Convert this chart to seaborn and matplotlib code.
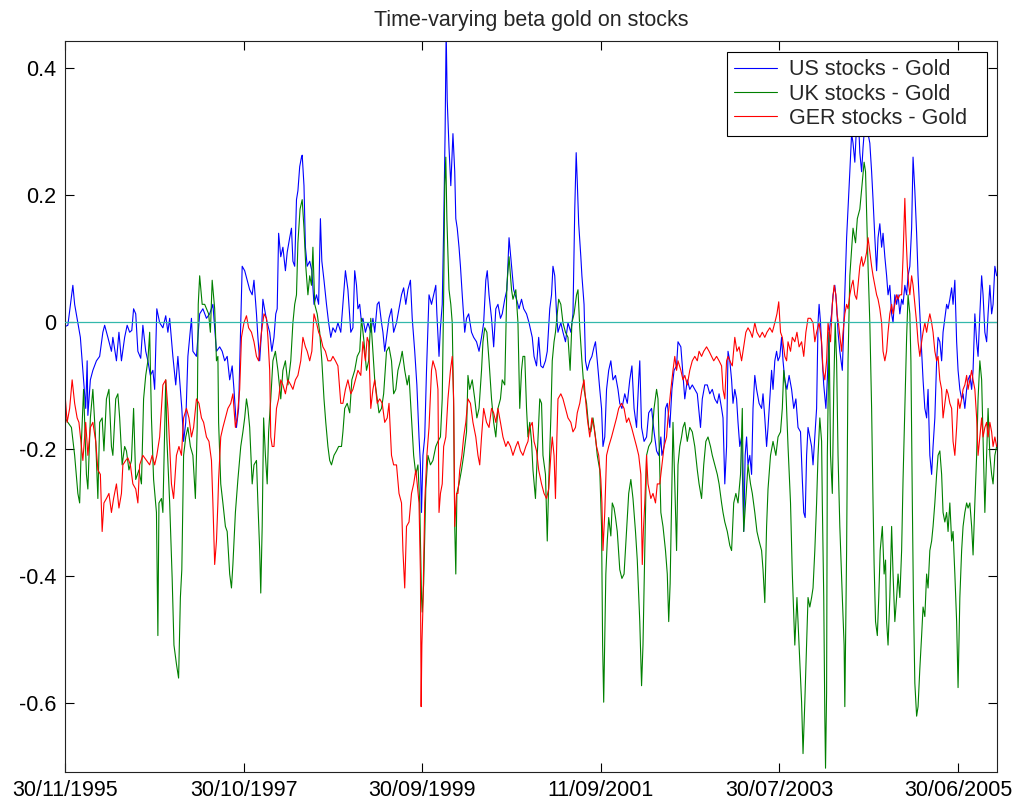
import matplotlib
matplotlib.use("Agg")
import numpy as np
import pandas as pd
import matplotlib.pyplot as plt
import seaborn as sns

# ---------------- data (observation number, beta) ----------------
us_day = [1,9,23,28,37,44,51,59,63,65,72,79,89,98,107,112,121,131,135,145,
          152,159,168,175,182,188,193,199,205,213,219,227,233,240,247,252,258,266,275,283,
          289,294,303,311,317,324,328,333,339,345,355,359,369,373,378,387,397,406,415,425,434,
          441,448,455,462,469,474,481,487,493,497,504,511,518,525,530,537,541,546,551,555,
          562,567,574,580,586,591,595,599,605,611,618,623,630,635,639,644,649,653,658,663,
          665,670,674,679,686,692,698,705,711,716,720,726,733,739,745,751,758,765,773,779,
          786,793,801,807,812,817,821,826,831,835,842,849,857,863,868,
          875,880,887,891,896,903,908,915,921,929,936,943,949,955,961,968,973,980,986,992,
          996,999,1003,1008,1013,1020,1027,1033,1039,1042,1048,1052,1057,1061,1065,1068,1071,1076,1081,1087,
          1092,1095,1099,1104,1108,1113,1120,1125,1131,1139,1145,1153,1160,1167,1173,1179,1183,1188,1195,1201,
          1207,1213,1220,1225,1232,1238,1244,1251,1257,1265,1272,1279,1285,1293,1300,
          1309,1314,1321,1327,1333,1339,1346,1351,1358,1363,1367,1372,1377,1381,1389,1395,1402,1409,1417,1423,
          1428,1432,1435,1439,1445,1448,1454,1458,1463,1470,1476,1482,1486,1491,1498,1503,1507,1512,1517,1523,
          1529,1535,1542,1549,1554,1560,1568,1575,1582,1588,1594,1601,1607,1610,1615,1622,1629,1635,1643,1650,
          1657,1663,1669,1672,1678,1682,1687,1694,1700,1706,1713,1717,1725,1731,1736,
          1743,1750,1757,1764,1771,1776,1780,1785,1792,1799,1806,1813,1820,1827,1832,1839,1843,1848,1853,1857,
          1862,1867,1871,1876,1881,1885,1890,1895,1901,1905,1909,1913,1918,1923,1927,1932,1937,1944,1951,1955,
          1960,1965,1969,1974,1979,1983,1988,1993,1997,2002,2007,2011,2016,2022,2028,2035,2041,2047,2053,2060,
          2065,2069,2073,2077,2081,2086,2091,2095,2100,2105,2109,2112,2116,2121,2125,2131,2135,2140,2147,2151,
          2156,2161,2165,
          2170,2177,2182,2189,2193,2198,2203,2207,2212,2217,2221,2226,2231,2235,2240,2245,2249,2254,2259,2263,
          2268,2273,2277,2282,2287,2291,2296,2301,2305,2310,2315,2319,2324,2329,2333,2338,2343,2347,2352,2357,
          2361,2366,2371,2375,2380,2385,2389,2394,2399,2403,2408,2413,2417,2422,2427,2431,2436,2441,2445,2450,
          2455,2459,2464,2469,2473,2478,2483,2487,2492,2497,2501,2506,2511,2515,2520,2525,2529,2534,2539,2543,
          2548,2553,2557,2562,2567,2571,2576,2581,2585,2590,2595,2599,2604,2609]
us_beta = [-0.007,-0.005,0.058,0.028,-0.001,-0.024,-0.076,-0.136,-0.061,-0.147,-0.091,-0.076,-0.061,-0.054,-0.016,-0.005,-0.024,-0.046,-0.024,-0.061,
           -0.016,-0.061,-0.024,-0.005,-0.016,-0.013,0.021,0.013,-0.046,-0.057,-0.005,-0.046,-0.061,-0.084,-0.076,-0.106,0.021,-0.001,-0.009,0.010,
           -0.016,0.006,-0.054,-0.099,-0.054,-0.106,-0.136,-0.188,-0.158,-0.054,0.006,-0.046,-0.054,-0.024,0.013,0.021,0.006,0.013,0.028,-0.046,-0.039,
           -0.046,-0.061,-0.054,-0.091,-0.069,-0.106,-0.166,-0.136,-0.001,0.088,0.081,0.066,0.051,0.043,0.066,0.013,-0.024,-0.061,-0.016,0.036,
           0.013,-0.001,-0.016,-0.046,-0.024,0.013,0.021,0.140,0.103,0.118,0.081,0.110,0.133,0.148,0.096,0.088,0.193,0.207,0.245,0.260,
           0.263,0.215,0.118,0.088,0.096,0.081,0.028,0.043,0.028,0.163,0.096,0.066,0.028,-0.001,-0.024,-0.009,-0.016,-0.001,-0.016,0.028,
           0.081,0.051,-0.016,-0.009,0.081,0.058,0.021,0.028,-0.001,0.006,-0.016,-0.001,-0.016,0.006,-0.016,
           0.028,0.032,-0.001,-0.016,-0.046,-0.016,0.006,0.021,-0.016,-0.001,0.021,0.043,0.054,0.028,0.051,0.066,0.006,-0.046,-0.099,-0.181,
           -0.225,-0.300,-0.210,-0.181,-0.076,0.043,0.028,0.043,0.058,0.013,-0.054,-0.009,0.028,0.148,0.297,0.460,0.349,0.275,0.215,0.297,
           0.237,0.163,0.148,0.118,0.088,0.043,-0.016,0.006,0.013,-0.016,-0.024,-0.031,-0.046,-0.024,-0.001,0.066,0.081,0.043,0.006,-0.039,
           0.021,0.028,0.006,0.013,0.036,0.051,0.133,0.088,0.051,0.036,0.021,0.036,0.021,0.013,-0.001,
           -0.024,-0.054,-0.069,-0.024,-0.069,-0.072,-0.061,-0.046,0.021,0.043,0.088,0.073,0.013,-0.016,-0.001,-0.016,-0.031,-0.001,-0.016,0.013,
           0.178,0.267,0.222,0.155,0.103,0.073,0.028,-0.061,-0.076,-0.061,-0.054,-0.039,-0.031,-0.061,-0.106,-0.136,-0.196,-0.181,-0.106,-0.076,
           -0.061,-0.091,-0.084,-0.106,-0.128,-0.136,-0.113,-0.128,-0.091,-0.069,-0.136,-0.166,-0.091,-0.061,-0.166,-0.188,-0.181,-0.143,-0.136,-0.173,
           -0.203,-0.210,-0.181,-0.210,-0.196,-0.136,-0.128,-0.166,-0.106,-0.076,-0.069,-0.031,-0.039,-0.084,-0.121,
           -0.091,-0.106,-0.099,-0.106,-0.113,-0.143,-0.166,-0.121,-0.099,-0.099,-0.113,-0.106,-0.121,-0.128,-0.113,-0.136,-0.151,-0.255,-0.196,-0.046,
           -0.061,-0.091,-0.128,-0.106,-0.121,-0.158,-0.196,-0.181,-0.330,-0.210,-0.181,-0.225,-0.210,-0.240,-0.136,-0.084,-0.106,-0.128,-0.136,-0.113,
           -0.151,-0.196,-0.166,-0.121,-0.076,-0.106,-0.061,-0.046,-0.061,-0.054,-0.024,-0.061,-0.091,-0.106,-0.084,-0.106,-0.136,-0.121,-0.166,-0.173,
           -0.248,-0.300,-0.308,-0.210,-0.166,-0.181,-0.196,-0.225,-0.181,-0.136,-0.001,0.028,-0.001,-0.061,-0.099,-0.136,-0.091,-0.016,0.013,0.043,
           0.058,0.028,-0.016,
           -0.046,-0.076,0.013,0.133,0.178,0.237,0.297,0.282,0.252,0.312,0.335,0.267,0.237,0.275,0.312,0.319,0.297,0.282,0.237,0.193,
           0.133,0.081,0.133,0.155,0.118,0.140,0.103,0.073,0.043,0.058,0.013,-0.001,0.043,0.028,0.043,0.013,0.036,0.028,0.058,0.043,
           0.073,0.088,0.148,0.260,0.207,0.140,0.073,0.013,-0.046,-0.091,-0.136,-0.151,-0.106,-0.210,-0.240,-0.196,-0.151,-0.061,-0.024,-0.031,
           -0.061,-0.016,0.006,0.028,0.021,0.036,0.054,0.028,0.066,-0.031,-0.076,-0.106,-0.121,-0.113,-0.136,-0.106,-0.091,-0.084,-0.106,-0.076,
           0.013,-0.031,-0.054,0.013,0.073,0.043,-0.016,-0.031,0.013,0.058,0.013,0.028,0.088,0.073]

uk_day = [1,9,19,28,37,42,47,53,61,65,72,79,87,93,98,105,110,117,124,131,
          135,143,149,154,161,168,173,180,187,193,199,208,215,221,227,233,238,243,249,257,
          261,264,271,275,283,286,294,301,306,313,319,324,328,333,339,345,352,359,366,371,
          374,378,385,392,397,403,408,413,420,425,429,
          431,437,443,450,455,462,467,471,478,485,493,499,504,509,513,518,525,530,537,541,
          546,549,553,557,562,567,571,577,583,590,597,605,611,618,625,633,639,644,649,653,
          659,665,670,675,681,686,691,695,700,707,714,720,726,731,737,742,747,754,761,767,
          775,779,784,791,798,804,812,819,826,831,838,845,851,857,863,868,
          873,880,887,893,901,908,915,921,927,933,940,945,952,959,964,971,977,983,989,994,
          999,1001,1005,1011,1017,1024,1031,1039,1045,1052,1057,1061,1064,1067,1070,1076,1081,1085,1089,1092,
          1095,1098,1104,1111,1117,1125,1129,1134,1141,1148,1154,1160,1167,1171,1176,1182,1188,1195,1201,1207,
          1213,1220,1225,1232,1238,1244,1251,1255,1263,1269,1274,1279,1283,1288,1293,1297,1302,
          1307,1311,1318,1323,1330,1335,1339,1346,1351,1355,1361,1365,1370,1374,1379,1383,1389,1395,1402,1409,
          1415,1420,1426,1433,1437,1442,1448,1454,1461,1467,1473,1479,1486,1491,1498,1503,1506,1509,1512,1515,
          1519,1523,1529,1533,1538,1542,1547,1554,1560,1566,1573,1579,1585,1591,1598,1603,1610,1615,1619,1624,
          1629,1635,1643,1650,1657,1661,1669,1675,1682,1687,1691,1695,1699,1703,1708,1713,1717,1722,1727,1731,1736,
          1743,1750,1757,1764,1771,1776,1783,1789,1795,1801,1808,1813,1820,1827,1832,1839,1843,1848,1855,1862,
          1867,1873,1879,1885,1892,1897,1901,1907,1913,1920,1925,1932,1938,1944,1951,1955,1960,1965,1969,1976,
          1983,1991,1997,2004,2009,2013,2019,2025,2032,2037,2044,2050,2056,2063,2067,2072,2077,2081,2086,2091,
          2095,2100,2105,2109,2114,2119,2121,2125,2128,2130,2133,2135,2140,2144,2149,2153,2157,2161,2165,
          2170,2177,2182,2184,2189,2193,2198,2207,2214,2219,2226,2233,2238,2242,2246,2249,2254,2259,2263,2266,
          2270,2275,2279,2283,2289,2294,2298,2301,2305,2310,2315,2319,2324,2329,2333,2338,2343,2347,2352,2357,
          2361,2366,2369,2373,2376,2380,2385,2389,2394,2399,2403,2408,2413,2417,2422,2427,2431,2436,2441,2445,
          2450,2455,2459,2464,2469,2473,2478,2483,2487,2492,2497,2501,2506,2511,2515,2520,2525,2529,2534,2539,
          2543,2548,2553,2557,2562,2567,2571,2576,2581,2585,2590,2595,2599,2604,2609]
uk_beta = [-0.151,-0.158,-0.166,-0.210,-0.270,-0.285,-0.188,-0.106,-0.240,-0.263,-0.151,-0.106,-0.188,-0.278,-0.158,-0.151,-0.203,-0.121,-0.106,-0.196,
           -0.210,-0.121,-0.113,-0.151,-0.225,-0.196,-0.203,-0.233,-0.218,-0.136,-0.248,-0.233,-0.255,-0.121,-0.084,-0.061,-0.016,-0.151,-0.248,-0.300,
           -0.494,-0.285,-0.278,-0.300,-0.091,-0.181,-0.285,-0.404,-0.509,-0.539,-0.561,-0.434,-0.390,-0.210,-0.181,-0.166,-0.196,-0.210,-0.278,-0.166,
           0.028,0.073,0.028,0.028,0.021,0.013,-0.016,0.066,0.021,-0.061,-0.054,
           -0.158,-0.255,-0.285,-0.322,-0.330,-0.397,-0.419,-0.382,-0.300,-0.248,-0.196,-0.173,-0.151,-0.121,-0.136,-0.166,-0.255,-0.225,-0.218,-0.285,
           -0.360,-0.427,-0.322,-0.151,-0.210,-0.255,-0.173,-0.121,-0.061,-0.046,-0.076,-0.121,-0.076,-0.061,-0.099,-0.061,-0.001,0.028,0.043,0.125,
           0.178,0.193,0.148,0.088,0.043,0.073,0.058,0.118,0.028,0.013,-0.016,-0.061,-0.121,-0.158,-0.196,-0.218,-0.225,-0.210,-0.203,-0.196,
           -0.196,-0.173,-0.136,-0.128,-0.143,-0.091,-0.076,-0.054,-0.046,0.006,-0.031,-0.076,-0.061,0.006,-0.046,-0.091,
           -0.113,-0.143,-0.136,-0.113,-0.046,-0.039,-0.061,-0.113,-0.106,-0.076,-0.061,-0.046,-0.076,-0.099,-0.084,-0.151,-0.210,-0.240,-0.225,-0.285,
           -0.434,-0.457,-0.412,-0.263,-0.210,-0.225,-0.218,-0.196,-0.188,-0.181,-0.121,0.043,0.215,0.260,0.163,0.051,0.028,-0.001,-0.136,-0.322,
           -0.397,-0.270,-0.255,-0.233,-0.210,-0.173,-0.084,-0.106,-0.091,-0.121,-0.151,-0.136,-0.076,-0.031,-0.009,-0.016,-0.061,-0.121,-0.158,-0.181,
           -0.136,-0.121,-0.091,-0.099,0.058,0.103,0.051,0.036,0.051,-0.001,-0.136,-0.076,-0.054,-0.054,-0.136,-0.181,-0.158,
           -0.188,-0.233,-0.278,-0.210,-0.121,-0.128,-0.210,-0.240,-0.345,-0.255,-0.151,-0.061,-0.031,-0.016,0.013,0.036,0.028,-0.001,-0.016,-0.024,
           -0.076,-0.001,0.013,0.043,0.051,-0.009,-0.061,-0.106,-0.128,-0.166,-0.173,-0.151,-0.181,-0.210,-0.233,-0.322,-0.509,-0.599,-0.501,-0.397,
           -0.345,-0.308,-0.337,-0.285,-0.293,-0.308,-0.330,-0.390,-0.404,-0.397,-0.330,-0.270,-0.248,-0.278,-0.330,-0.375,-0.472,-0.573,-0.509,-0.360,
           -0.210,-0.196,-0.188,-0.136,-0.106,-0.121,-0.300,-0.322,-0.360,-0.397,-0.472,-0.412,-0.285,-0.158,-0.255,-0.360,-0.225,-0.196,-0.181,-0.166,-0.158,
           -0.188,-0.166,-0.173,-0.196,-0.233,-0.255,-0.278,-0.225,-0.188,-0.181,-0.196,-0.210,-0.225,-0.240,-0.255,-0.285,-0.300,-0.315,-0.330,-0.352,
           -0.360,-0.285,-0.270,-0.285,-0.240,-0.136,-0.330,-0.278,-0.225,-0.255,-0.270,-0.300,-0.330,-0.345,-0.360,-0.390,-0.442,-0.322,-0.263,-0.210,
           -0.188,-0.210,-0.181,-0.173,-0.136,-0.076,-0.106,-0.196,-0.285,-0.397,-0.509,-0.434,-0.509,-0.599,-0.680,-0.599,-0.509,-0.434,-0.449,-0.434,
           -0.419,-0.360,-0.285,-0.210,-0.151,-0.188,-0.285,-0.434,-0.621,-0.703,-0.584,-0.210,-0.016,-0.210,-0.270,-0.106,-0.001,-0.061,-0.210,
           -0.322,-0.434,-0.509,-0.606,-0.360,-0.061,0.073,0.148,0.125,0.163,0.178,0.222,0.252,0.237,0.148,0.088,-0.001,-0.136,-0.285,-0.382,
           -0.472,-0.494,-0.434,-0.360,-0.322,-0.397,-0.375,-0.472,-0.509,-0.434,-0.322,-0.397,-0.472,-0.434,-0.397,-0.434,-0.360,-0.248,-0.136,-0.024,
           0.043,0.013,-0.061,-0.285,-0.434,-0.569,-0.621,-0.606,-0.546,-0.494,-0.449,-0.464,-0.397,-0.419,-0.360,-0.345,-0.322,-0.285,-0.240,-0.210,
           -0.203,-0.240,-0.300,-0.315,-0.300,-0.330,-0.285,-0.345,-0.330,-0.397,-0.472,-0.576,-0.434,-0.360,-0.322,-0.300,-0.285,-0.293,-0.285,-0.322,
           -0.367,-0.285,-0.210,-0.121,-0.061,-0.091,-0.181,-0.300,-0.210,-0.136,-0.210,-0.240,-0.255,-0.210,-0.196]

ger_day = [1,7,14,21,28,35,40,47,51,59,65,72,79,87,93,100,105,110,117,124,
           131,137,145,152,159,163,171,177,184,191,199,205,210,219,229,238,245,252,258,266,
           275,283,289,294,299,305,313,320,327,333,341,348,355,361,369,376,383,389,397,404,
           411,415,420,425,429,
           431,437,443,450,457,465,471,478,483,490,495,502,509,515,523,530,537,543,551,558,
           565,569,574,577,581,586,593,599,605,611,618,625,633,639,646,653,661,667,674,679,
           686,692,698,705,711,717,723,730,737,745,751,758,765,773,779,786,793,801,807,814,
           821,829,835,842,847,851,857,863,868,
           875,882,889,896,903,908,915,921,929,936,943,947,952,957,964,971,977,983,987,992,
           996,998,1000,1003,1008,1014,1020,1027,1031,1039,1045,1048,1052,1057,1061,1067,1073,1080,1085,1089,
           1092,1097,1101,1106,1112,1117,1123,1129,1136,1143,1151,1157,1162,1167,1173,1181,1188,1195,1201,1207,
           1213,1220,1227,1235,1241,1248,1255,1263,1269,1276,1283,1291,1297,1302,
           1309,1314,1321,1327,1335,1342,1349,1355,1361,1365,1370,1374,1378,1381,1389,1395,1402,1409,1417,1423,
           1430,1435,1442,1448,1454,1458,1463,1470,1476,1482,1489,1495,1501,1504,1507,1512,1517,1523,1531,1538,
           1545,1551,1559,1566,1573,1579,1587,1594,1601,1607,1613,1617,1620,1624,1629,1633,1641,1647,1654,1659,
           1666,1672,1678,1685,1689,1697,1703,1708,1713,1717,1725,1731,1736,
           1743,1750,1757,1764,1771,1776,1783,1789,1797,1804,1811,1817,1825,1832,1839,1843,1848,1853,1857,1862,
           1869,1876,1882,1888,1895,1901,1907,1913,1920,1925,1932,1938,1946,1953,1960,1966,1974,1981,1988,1994,
           1999,2004,2009,2016,2021,2025,2032,2037,2044,2050,2056,2063,2069,2075,2081,2088,2095,2100,2105,2112,
           2119,2123,2128,2133,2137,2144,2149,2154,2159,2162,2166,
           2175,2179,2184,2189,2193,2198,2203,2207,2212,2217,2221,2226,2231,2235,2240,2245,2249,2254,2259,2263,
           2268,2273,2277,2282,2287,2291,2296,2301,2305,2310,2315,2319,2324,2329,2333,2338,2343,2347,2352,2355,
           2359,2363,2366,2371,2375,2380,2385,2389,2394,2399,2403,2408,2413,2417,2422,2427,2431,2436,2441,2445,
           2450,2455,2459,2464,2469,2473,2478,2483,2487,2492,2497,2501,2506,2511,2515,2520,2525,2529,2534,2539,
           2543,2548,2553,2557,2562,2567,2571,2576,2581,2585,2590,2595,2599,2604,2609]
ger_beta = [-0.113,-0.158,-0.136,-0.091,-0.128,-0.151,-0.158,-0.196,-0.218,-0.158,-0.210,-0.166,-0.158,-0.188,-0.233,-0.240,-0.330,-0.285,-0.278,-0.270,
            -0.300,-0.278,-0.255,-0.293,-0.270,-0.225,-0.218,-0.214,-0.225,-0.255,-0.263,-0.285,-0.225,-0.210,-0.218,-0.225,-0.210,-0.225,-0.210,-0.181,
            -0.099,-0.091,-0.136,-0.196,-0.255,-0.278,-0.210,-0.196,-0.210,-0.151,-0.136,-0.151,-0.181,-0.166,-0.121,-0.128,-0.151,-0.158,-0.181,-0.188,
            -0.218,-0.285,-0.382,-0.345,-0.285,
            -0.248,-0.181,-0.166,-0.151,-0.136,-0.128,-0.113,-0.166,-0.151,-0.106,-0.024,-0.001,0.010,-0.009,-0.016,-0.031,-0.054,-0.061,-0.016,0.013,
            0.006,-0.024,-0.076,-0.181,-0.196,-0.196,-0.136,-0.121,-0.091,-0.099,-0.113,-0.091,-0.099,-0.106,-0.091,-0.084,-0.061,-0.024,-0.039,-0.046,
            -0.061,-0.046,0.013,-0.001,-0.016,-0.024,-0.039,-0.046,-0.061,-0.061,-0.054,-0.061,-0.069,-0.128,-0.128,-0.106,-0.091,-0.113,-0.106,-0.091,
            -0.076,-0.084,-0.031,-0.061,-0.024,-0.031,-0.136,-0.106,-0.091,
            -0.128,-0.121,-0.128,-0.158,-0.151,-0.128,-0.210,-0.225,-0.225,-0.270,-0.285,-0.360,-0.419,-0.322,-0.315,-0.270,-0.255,-0.233,-0.255,-0.285,
            -0.397,-0.606,-0.509,-0.449,-0.285,-0.210,-0.166,-0.076,-0.061,-0.076,-0.106,-0.300,-0.270,-0.255,-0.196,-0.181,-0.121,-0.076,-0.054,-0.121,
            -0.322,-0.270,-0.270,-0.233,-0.210,-0.181,-0.158,-0.121,-0.128,-0.158,-0.181,-0.210,-0.225,-0.181,-0.136,-0.158,-0.166,-0.136,-0.143,-0.158,
            -0.136,-0.158,-0.181,-0.196,-0.188,-0.196,-0.210,-0.196,-0.188,-0.203,-0.210,-0.196,-0.188,-0.166,
            -0.158,-0.188,-0.203,-0.233,-0.255,-0.270,-0.278,-0.263,-0.210,-0.181,-0.210,-0.278,-0.181,-0.121,-0.113,-0.121,-0.136,-0.151,-0.158,-0.173,
            -0.166,-0.143,-0.128,-0.106,-0.091,-0.121,-0.151,-0.181,-0.151,-0.166,-0.196,-0.210,-0.248,-0.285,-0.360,-0.300,-0.210,-0.196,-0.181,-0.166,
            -0.151,-0.136,-0.128,-0.136,-0.158,-0.151,-0.166,-0.181,-0.196,-0.210,-0.240,-0.382,-0.330,-0.285,-0.210,-0.255,-0.278,-0.270,-0.285,-0.255,
            -0.255,-0.225,-0.196,-0.181,-0.151,-0.106,-0.076,-0.054,-0.076,-0.061,-0.076,-0.091,-0.084,
            -0.099,-0.076,-0.061,-0.054,-0.061,-0.046,-0.054,-0.046,-0.039,-0.046,-0.054,-0.061,-0.054,-0.061,-0.069,-0.106,-0.121,-0.061,-0.054,-0.061,
            -0.069,-0.024,-0.046,-0.039,-0.061,-0.039,-0.016,-0.009,-0.016,-0.024,-0.001,-0.016,-0.024,-0.016,-0.024,-0.016,-0.009,-0.016,-0.001,0.013,
            0.032,-0.016,-0.024,-0.054,-0.061,-0.031,-0.046,-0.024,-0.031,-0.016,-0.039,-0.031,-0.054,-0.016,0.006,0.006,-0.001,-0.031,-0.016,-0.001,
            -0.031,-0.076,-0.091,-0.061,-0.001,-0.031,0.028,0.058,0.043,0.013,-0.001,
            -0.046,-0.016,0.013,0.028,0.021,0.043,0.058,0.066,0.043,0.036,0.058,0.088,0.103,0.088,0.096,0.110,0.133,0.110,0.088,0.073,
            0.058,0.043,0.036,0.021,-0.001,-0.046,-0.061,-0.046,-0.016,0.013,0.028,0.013,0.028,0.043,0.036,0.043,0.043,0.103,0.195,0.140,
            0.088,0.058,0.043,0.073,0.058,0.028,-0.001,-0.031,-0.054,-0.031,-0.016,-0.001,-0.016,-0.001,0.013,-0.001,-0.016,-0.046,-0.061,-0.054,
            -0.091,-0.106,-0.151,-0.128,-0.106,-0.113,-0.128,-0.136,-0.188,-0.210,-0.166,-0.121,-0.136,-0.121,-0.106,-0.099,-0.084,-0.106,-0.091,-0.076,
            -0.091,-0.106,-0.151,-0.210,-0.181,-0.151,-0.181,-0.166,-0.158,-0.181,-0.158,-0.173,-0.196,-0.181,-0.196]

series_names = ["US stocks - Gold", "UK stocks - Gold", "GER stocks - Gold"]
tick_days = [1, 501, 1001, 1501, 2001, 2501]
tick_dates = ["30/11/1995", "30/10/1997", "30/09/1999", "11/09/2001", "30/07/2003", "30/06/2005"]
y_ticks = [-0.6, -0.4, -0.2, 0.0, 0.2, 0.4]
y_tick_labels = ["-0.6", "-0.4", "-0.2", "0", "0.2", "0.4"]
zero_level = 0.0
title_text = "Time-varying beta gold on stocks"

assert len(us_day) == len(us_beta), (len(us_day), len(us_beta))
assert len(uk_day) == len(uk_beta), (len(uk_day), len(uk_beta))
assert len(ger_day) == len(ger_beta), (len(ger_day), len(ger_beta))

# ---------------- plot ----------------
sns.set_style("ticks")
plt.rcParams["font.family"] = ["Liberation Sans", "DejaVu Sans"]
plt.rcParams["axes.unicode_minus"] = False

fig = plt.figure(figsize=(10.15, 8.07), dpi=100)
ax = fig.add_axes([65 / 1015, 1 - 772 / 807, 932 / 1015, 731 / 807])

colors = ["#0000ff", "#008000", "#ff0000"]
for day, beta, col, name in zip([us_day, uk_day, ger_day], [us_beta, uk_beta, ger_beta], colors, series_names):
    df = pd.DataFrame({"day": day, "beta": beta})
    sns.lineplot(data=df, x="day", y="beta", color=col, linewidth=0.8, label=name,
                 estimator=None, sort=False, ax=ax)

ax.axhline(zero_level, color="#33b8ac", linewidth=0.9, zorder=5)

ax.set_xlim(1, 2610)
ax.set_ylim(-0.709, 0.443)
ax.set_xticks(tick_days)
ax.set_xticklabels(tick_dates)
ax.set_yticks(y_ticks)
ax.set_yticklabels(y_tick_labels)
ax.set_xlabel("")
ax.set_ylabel("")
ax.tick_params(direction="in", top=True, right=True, length=6.5, width=0.8,
               labelsize=15.5, colors="black", pad=6)
for s in ax.spines.values():
    s.set_visible(True)
    s.set_color("#222222")
    s.set_linewidth(0.8)
ax.grid(False)
ax.set_title(title_text, fontsize=15.5, pad=11)

leg = ax.legend(loc="upper left", bbox_to_anchor=(0.710, 0.871, 0.279, 0.114), mode="expand",
                borderaxespad=0, fancybox=False, edgecolor="black", framealpha=1, fontsize=15.5,
                handlelength=2.0, handletextpad=0.55, labelspacing=0.15, borderpad=0.35)
leg.get_frame().set_linewidth(0.8)

fig.savefig("out.png", dpi=100, facecolor="white")
